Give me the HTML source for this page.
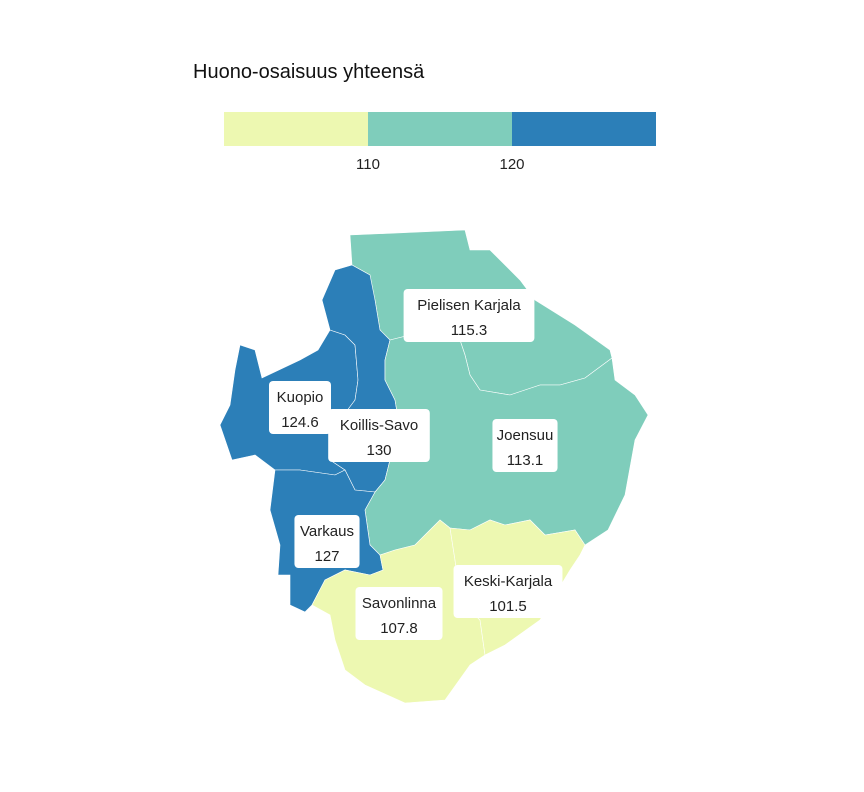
<!DOCTYPE html>
<html><head><meta charset="utf-8"><style>
body{margin:0;background:#fff;}
svg{display:block;font-family:"Liberation Sans",sans-serif;}
</style></head><body>
<svg id="chart" width="864" height="792" viewBox="0 0 864 792">
<text x="193" y="78" font-size="20" fill="#111">Huono-osaisuus yhteensä</text>
<g id="legend"></g>
<g id="regions"></g>
<g id="labels"></g>
</svg>
<script>
const regionNames=["Pielisen Karjala","Kuopio","Koillis-Savo","Joensuu","Varkaus","Savonlinna","Keski-Karjala"];
const regionValues=[115.3,124.6,130,113.1,127,107.8,101.5];
const thresholds=[110,120];
const palette=["#edf8b1","#7fcdbb","#2c7fb8"];
const tickLabels=["110","120"];

const shapes={
"Pielisen Karjala":"350,235 465,230 470,250 490,250 520,280 535,300 575,325 610,350 612,358 585,378 560,385 540,385 510,395 480,390 470,375 465,355 460,340 440,335 410,335 390,340 380,330 375,300 370,290 370,275 352,265",
"Kuopio":"240,345 255,350 262,378 300,360 318,350 330,330 345,335 355,345 358,380 355,400 340,420 330,440 330,460 345,470 335,475 300,470 275,470 255,455 232,460 220,425 230,405 235,370",
"Koillis-Savo":"335,270 352,265 370,275 375,300 380,330 390,340 385,360 385,380 395,400 400,430 390,460 385,480 375,492 355,490 345,470 330,460 330,440 340,420 355,400 358,380 355,345 345,335 330,330 322,300",
"Joensuu":"390,340 410,335 440,335 460,340 465,355 470,375 480,390 510,395 540,385 560,385 585,378 612,358 615,380 635,395 648,415 635,440 625,495 608,530 585,545 575,530 545,535 530,520 505,525 490,520 470,530 450,528 440,520 430,530 415,545 395,550 380,555 370,545 365,510 375,492 385,480 390,460 400,430 395,400 385,380 385,360",
"Varkaus":"275,470 300,470 335,475 345,470 355,490 375,492 365,510 370,545 380,555 383,570 370,575 345,570 325,580 312,605 305,612 290,605 290,575 278,575 280,545 270,510",
"Savonlinna":"325,580 345,570 370,575 383,570 380,555 395,550 415,545 430,530 440,520 450,528 455,560 460,600 480,620 485,655 470,665 445,700 405,703 365,685 345,670 335,640 330,615 312,605",
"Keski-Karjala":"450,528 470,530 490,520 505,525 530,520 545,535 575,530 585,545 580,555 570,570 540,620 505,645 485,655 480,620 460,600 455,560"
};
const labelPos={"Pielisen Karjala":[469,316],"Kuopio":[300,408],"Koillis-Savo":[379,436],"Joensuu":[525,446],"Varkaus":[327,542],"Savonlinna":[399,614],"Keski-Karjala":[508,592]};

function colorFor(v){let i=0;while(i<thresholds.length&&v>=thresholds[i])i++;return palette[i];}
const NS="http://www.w3.org/2000/svg";
const lg=document.getElementById('legend');
const lx0=224,lw=432,segW=lw/palette.length;
palette.forEach((c,i)=>{
 const r=document.createElementNS(NS,'rect');
 r.setAttribute('x',lx0+i*segW);r.setAttribute('y',112);r.setAttribute('width',segW);r.setAttribute('height',34);r.setAttribute('fill',c);
 
 
 lg.appendChild(r);
});
tickLabels.forEach((t,i)=>{
 const tx=document.createElementNS(NS,'text');
 tx.setAttribute('x',lx0+(i+1)*segW);tx.setAttribute('y',169);tx.setAttribute('text-anchor','middle');tx.setAttribute('font-size','15');tx.setAttribute('fill','#222');
 tx.textContent=t;
 
 
 lg.appendChild(tx);
});
const rg=document.getElementById('regions'),lb=document.getElementById('labels');
regionNames.forEach((n,i)=>{
 const p=document.createElementNS(NS,'polygon');
 p.setAttribute('points',shapes[n]);p.setAttribute('fill',colorFor(regionValues[i]));p.setAttribute('stroke','#fff');p.setAttribute('stroke-width','0.6');
 
 
 rg.appendChild(p);
});
regionNames.forEach((n,i)=>{
 const [cx,cy]=labelPos[n];
 const g=document.createElementNS(NS,'g');
 
 
 const w=Math.max(n.length*7.3+14,62);
 const r=document.createElementNS(NS,'rect');
 r.setAttribute('x',cx-w/2);r.setAttribute('y',cy-27);r.setAttribute('width',w);r.setAttribute('height',53);r.setAttribute('rx',4);r.setAttribute('fill','#fff');
 g.appendChild(r);
 [[n,cy-6],[String(regionValues[i]),cy+19]].forEach(([t,y])=>{
  const tx=document.createElementNS(NS,'text');
  tx.setAttribute('x',cx);tx.setAttribute('y',y);tx.setAttribute('text-anchor','middle');tx.setAttribute('font-size','15');tx.setAttribute('fill','#222');
  tx.textContent=t;g.appendChild(tx);
 });
 lb.appendChild(g);
});
</script>
</body></html>
